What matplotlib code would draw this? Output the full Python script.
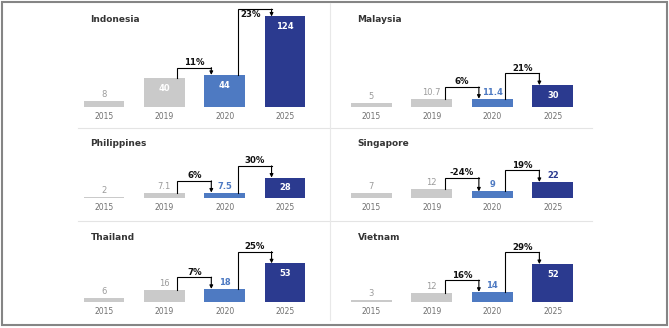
import matplotlib
matplotlib.use("Agg")
import matplotlib.pyplot as plt
from matplotlib.patches import Rectangle
from matplotlib.lines import Line2D

# ---------------- data ----------------
countries = ["Indonesia", "Malaysia", "Philippines", "Singapore", "Thailand", "Vietnam"]
years = ["2015", "2019", "2020", "2025"]

indonesia = [8, 40, 44, 124]
malaysia = [5, 10.7, 11.4, 30]
philippines = [2, 7.1, 7.5, 28]
singapore = [7, 12, 9, 22]
thailand = [6, 16, 18, 53]
vietnam = [3, 12, 14, 52]

growth_indonesia = ["11%", "23%"]
growth_malaysia = ["6%", "21%"]
growth_philippines = ["6%", "30%"]
growth_singapore = ["-24%", "19%"]
growth_thailand = ["7%", "25%"]
growth_vietnam = ["16%", "29%"]

values = [indonesia, malaysia, philippines, singapore, thailand, vietnam]
growths = [growth_indonesia, growth_malaysia, growth_philippines,
           growth_singapore, growth_thailand, growth_vietnam]

# ---------------- style / layout ----------------
W, H = 669, 328
SCALE = 0.73  # pixels per data unit (shared by all panels)
PX = 1 / SCALE

bar_colors = ["#cacaca", "#cacaca", "#4e7ac2", "#2b3a8f"]
label_colors = ["#9b9b9b", "#9b9b9b", "#4e7ac2", "#2b3a8f"]

col_left = [74, 341]
col_width = [241, 242]
row_top = [3, 128, 221]
row_base = [107, 198, 302]

fig = plt.figure(figsize=(W / 100, H / 100), dpi=100)
fig.patch.set_facecolor("white")

for i, (country, vals, gr) in enumerate(zip(countries, values, growths)):
    r, c = divmod(i, 2)
    x0, w = col_left[c], col_width[c]
    top, base = row_top[r], row_base[r]
    ax = fig.add_axes([x0 / W, 1 - base / H, w / W, (base - top) / H])
    ymax = (base - top) / SCALE
    ax.set_xlim(-0.5, 3.5)
    ax.set_ylim(0, ymax)
    xs = list(range(len(years)))
    bw = 0.67
    ax.bar(xs, vals, width=bw, color=bar_colors, clip_on=False)
    ax.set_xticks(xs)
    ax.set_xticklabels(years, fontsize=5.5, color="#707070")
    ax.tick_params(axis="x", length=0, pad=3.5)
    ax.set_yticks([])
    for s in ax.spines.values():
        s.set_visible(False)
    ax.patch.set_alpha(0)

    inside = [v * SCALE >= 18 for v in vals]
    for xi, v, ins, lc in zip(xs, vals, inside, label_colors):
        txt = f"{v:g}"
        if ins:
            y = max(v - 10.5 * PX, v / 2)
            ax.text(xi, y, txt, ha="center", va="center", fontsize=6,
                    fontweight="bold", color="white")
        else:
            y = v + 6.5 * PX
            weight = "bold" if xi >= 2 else "normal"
            ax.text(xi, y, txt, ha="center", va="center", fontsize=6,
                    fontweight=weight, color=lc)

    for (a, b), pct in zip([(1, 2), (2, 3)], gr):
        va_, vb_ = vals[a], vals[b]
        level = max(va_, vb_) + 10 + (6 if (not inside[a] or not inside[b]) else 0)
        xa = a + bw * 0.32
        xb = b - bw * 0.33
        ax.plot([xa, xa, xb], [va_, level, level], color="black", lw=0.8,
                solid_joinstyle="miter", clip_on=False)
        ax.annotate("", xy=(xb, vb_), xytext=(xb, level),
                    arrowprops=dict(arrowstyle="-|>", color="black", lw=0.8,
                                    mutation_scale=5, shrinkA=0, shrinkB=0),
                    annotation_clip=False)
        if level + 12 * PX > ymax:
            # no room above: put label under the line, left of the target bar
            ty = level - 5.5 * PX
            tx = (xa + (b - bw / 2)) / 2
        else:
            ty = level + 5 * PX
            tx = (xa + xb) / 2
        ax.text(tx, ty, pct, ha="center", va="center", fontsize=6.2,
                fontweight="bold", color="#111111")

    fig.text((x0 + 16.5) / W, 1 - (top + 16) / H, country, fontsize=6.5,
             fontweight="bold", color="#353535", va="center", ha="left")

# separators
for yy in [127.5, 220.5]:
    fig.add_artist(Line2D([78 / W, 592 / W], [1 - yy / H] * 2, color="#e4e4e4", lw=0.8))
fig.add_artist(Line2D([330 / W, 330 / W], [1 - 3 / H, 1 - 320 / H], color="#e8e8e8", lw=0.8))

# outer border
fig.add_artist(Rectangle((2 / W, 1 - 325 / H), 665 / W, 323 / H, fill=False,
                         ec="#858585", lw=1.5, transform=fig.transFigure))

fig.savefig("out.png", dpi=100)
